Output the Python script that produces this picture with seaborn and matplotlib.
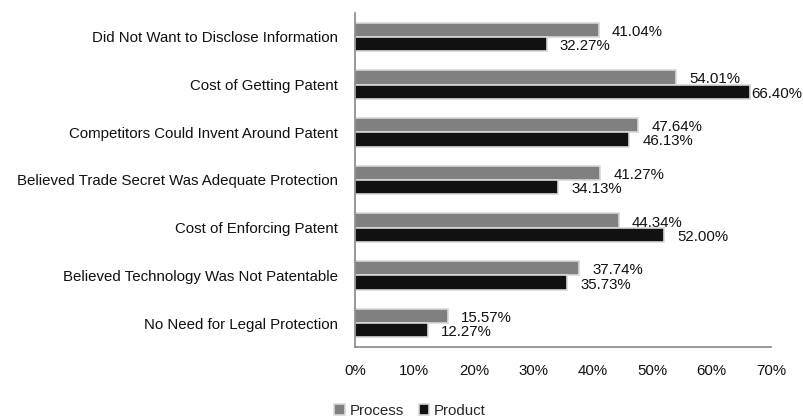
import matplotlib
matplotlib.use("Agg")
import matplotlib.pyplot as plt
import seaborn as sns
import pandas as pd
from matplotlib.ticker import PercentFormatter, FixedLocator

categories = [
    "Did Not Want to Disclose Information",
    "Cost of Getting Patent",
    "Competitors Could Invent Around Patent",
    "Believed Trade Secret Was Adequate Protection",
    "Cost of Enforcing Patent",
    "Believed Technology Was Not Patentable",
    "No Need for Legal Protection",
]
process = [41.04, 54.01, 47.64, 41.27, 44.34, 37.74, 15.57]
product = [32.27, 66.40, 46.13, 34.13, 52.00, 35.73, 12.27]
series_names = ["Process", "Product"]
x_ticks = [0, 10, 20, 30, 40, 50, 60, 70]

df = pd.DataFrame({
    "category": categories * 2,
    "value": process + product,
    "series": [series_names[0]] * len(categories) + [series_names[1]] * len(categories),
})

sns.set_style("white")
plt.rcParams["font.family"] = ["Liberation Sans", "DejaVu Sans"]
FS = 10.8

fig = plt.figure(figsize=(8.04, 4.19), dpi=100)
ax = fig.add_axes([0.4415, 0.172, 0.5175, 0.797])

palette = {"Process": "#808080", "Product": "#111111"}
sns.barplot(data=df, y="category", x="value", hue="series", order=categories,
            hue_order=series_names, palette=palette, width=0.6, orient="h",
            edgecolor="#d8d8d8", linewidth=1.2, ax=ax, saturation=1)

ax.set_xlim(0, 70)
ax.set_ylim(len(categories) - 0.5, -0.5)
ax.xaxis.set_major_locator(FixedLocator(x_ticks))
ax.xaxis.set_major_formatter(PercentFormatter(decimals=0))
ax.set_xlabel("")
ax.set_ylabel("")

# category tick marks at boundaries, labels centered
ax.set_yticks(range(len(categories)))
ax.set_yticklabels(categories, fontsize=FS)
ax.set_yticks([i - 0.5 for i in range(len(categories) + 1)], minor=True)
ax.tick_params(axis="y", which="major", length=0, pad=12)
ax.tick_params(axis="y", which="minor", length=5, color="#888888", width=1, direction="out")
ax.tick_params(axis="x", length=5, color="#888888", width=1, direction="out", labelsize=FS, pad=7)
ax.tick_params(axis="both", colors="#888888", labelcolor="#111111")
ax.tick_params(axis="y", which="minor", colors="#888888")

for side in ["top", "right"]:
    ax.spines[side].set_visible(False)
for side in ["left", "bottom"]:
    ax.spines[side].set_color("#888888")
    ax.spines[side].set_linewidth(1.2)

# data labels
for container in ax.containers:
    for bar in container:
        w = bar.get_width()
        yc = bar.get_y() + bar.get_height() / 2
        off = 1.5 if w > 60 else 9.5
        ax.annotate(f"{w:.2f}%", xy=(w, yc), xytext=(off, -1.5),
                    textcoords="offset points", ha="left", va="center",
                    fontsize=FS, color="#111111", annotation_clip=False)

ax.legend_.remove()
handles, labels = ax.get_legend_handles_labels()
fig.legend(handles, labels, loc="lower center", bbox_to_anchor=(0.51, 0.003),
           ncol=2, frameon=False, fontsize=FS, handlelength=0.7, handleheight=0.7,
           handletextpad=0.3, columnspacing=1.0, borderpad=0, borderaxespad=0)

fig.savefig("out.png", dpi=100)
